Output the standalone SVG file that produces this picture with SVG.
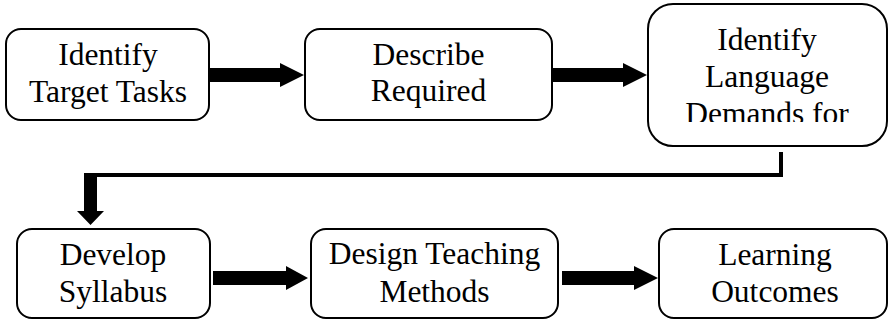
<svg xmlns="http://www.w3.org/2000/svg" width="889" height="320" viewBox="0 0 889 320">
<style>
.box{fill:#fff;stroke:#000;stroke-width:2}
.arr{fill:#000}
.ln{fill:none;stroke:#000;stroke-width:4}
</style>
<defs>
<clipPath id="c3"><rect x="640" y="0" width="249" height="122"/></clipPath>
</defs>
<rect width="889" height="320" fill="#fff"/>
<g id="connectors">
<polygon class="arr" points="209,68 280,68 280,63 304,75 280,87 280,82 209,82"/>
<polygon class="arr" points="552,68 623,68 623,63 647,75 623,87 623,82 552,82"/>
<polyline class="ln" points="781,152 781,175 90,175"/>
<polygon class="arr" points="84,173 97,173 97,211 104,211 90.5,225 77,211 84,211"/>
<polygon class="arr" points="213,271 286,271 286,266 308,278 286,290 286,285 213,285"/>
<polygon class="arr" points="562,271 634,271 634,266 658,278 634,290 634,285 562,285"/>
</g>
<g font-family="Liberation Serif, DejaVu Serif, serif" font-size="31.5" text-anchor="middle" fill="#000">
<g id="n1">
<rect class="box" x="6" y="29" width="203" height="91" rx="15"/>
<text x="108" y="65">Identify</text>
<text x="108" y="101.5">Target Tasks</text>
</g>
<g id="n2">
<rect class="box" x="305" y="29" width="247" height="91" rx="15"/>
<text x="428.5" y="65">Describe</text>
<text x="428.5" y="101">Required</text>
</g>
<g id="n3">
<rect class="box" x="648" y="4" width="239" height="142" rx="25"/>
<g clip-path="url(#c3)">
<text x="767" y="50">Identify</text>
<text x="767" y="87">Language</text>
<text x="767" y="124">Demands for</text>
</g>
</g>
<g id="n4">
<rect class="box" x="17" y="229" width="193" height="89" rx="15"/>
<text x="113" y="265">Develop</text>
<text x="113" y="302">Syllabus</text>
</g>
<g id="n5">
<rect class="box" x="311" y="229" width="247" height="89" rx="15"/>
<text x="434.5" y="264">Design Teaching</text>
<text x="434.5" y="302">Methods</text>
</g>
<g id="n6">
<rect class="box" x="659" y="229" width="228" height="89" rx="15"/>
<text x="775" y="265">Learning</text>
<text x="775" y="302">Outcomes</text>
</g>
</g>
</svg>
